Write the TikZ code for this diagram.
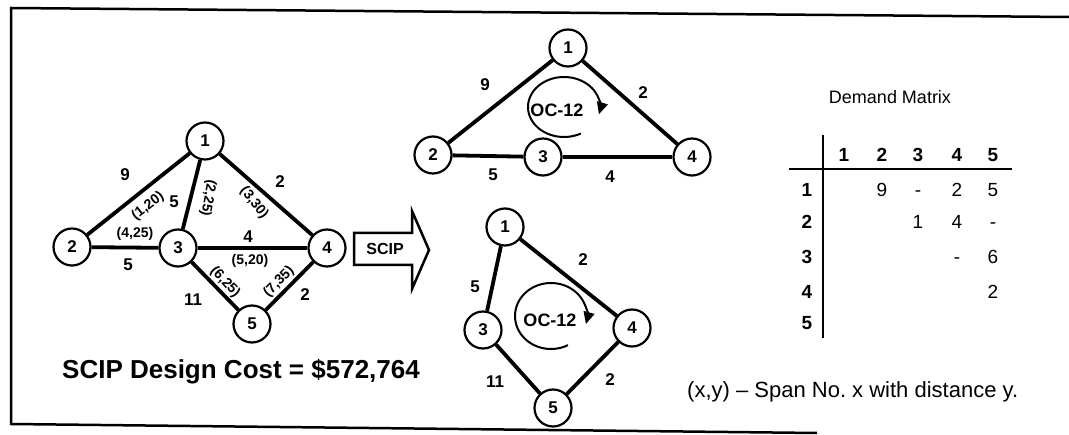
\documentclass[tikz,border=0pt]{standalone}
\usepackage{fontspec}
\setmainfont{Liberation Sans}
\usetikzlibrary{arrows.meta}

\begin{document}
\begin{tikzpicture}[x=1pt,y=-1pt,
    vtx/.style={draw,circle,line width=2.2pt,fill=white,minimum size=37pt,inner sep=0pt,
      font=\fontsize{17}{17}\selectfont\bfseries},
    link/.style={line width=3.8pt},
    wt/.style={font=\fontsize{17}{17}\selectfont\bfseries,inner sep=0pt},
    span/.style={font=\fontsize{14}{14}\selectfont\bfseries,inner sep=0pt},
    ring/.style={line width=2pt,-{Triangle[length=12pt,width=11pt]}},
    oc/.style={font=\fontsize{18}{18}\selectfont\bfseries,inner sep=0pt},
    hd/.style={font=\fontsize{19}{19}\selectfont\bfseries,inner sep=0pt},
    ent/.style={font=\fontsize{19}{19}\selectfont,inner sep=0pt,anchor=base}]
  \useasboundingbox (0,0) rectangle (1069,435);
  % frame
  \draw[line width=2.5pt] (1069,17) -- (11,8) -- (11,424) -- (817,433);

  % full network
  \node[vtx] (a1) at (205,141) {1};
  \node[vtx] (a2) at (72,247) {2};
  \node[vtx] (a3) at (178,248) {3};
  \node[vtx] (a4) at (327,248) {4};
  \node[vtx] (a5) at (252,324) {5};
  \foreach \u/\v in {a1/a2,a1/a3,a1/a4,a2/a3,a3/a4,a3/a5,a5/a4}\draw[link] (\u)--(\v);
  \node[wt] (w12) at (125,175) {9};
  \node[span,rotate=38] (s12) at (148,206) {(1,20)};
  \node[wt] (w13) at (174,202) {5};
  \node[span,rotate=-100] (s13) at (208,198) {(2,25)};
  \node[wt] (w14) at (280,182) {2};
  \node[span,rotate=-52] (s14) at (254,203) {(3,30)};
  \node[span] (s23) at (135,234) {(4,25)};
  \node[wt] (w23) at (128,265) {5};
  \node[wt] (w34) at (248,237) {4};
  \node[span] (s34) at (250,261) {(5,20)};
  \node[span,rotate=-47] (s35) at (225,282) {(6,25)};
  \node[wt] (w35) at (193,300) {11};
  \node[span,rotate=45] (s54) at (279,282) {(7,35)};
  \node[wt] (w54) at (305,295) {2};

  % SCIP block arrow
  \draw[line width=2.5pt,line join=miter] (354,233) -- (412,233) -- (412,211) -- (429,250)
    -- (412,289) -- (412,265) -- (354,265) -- cycle;
  \node[font=\fontsize{16}{16}\selectfont\bfseries] (scip) at (385,249) {SCIP};

  % upper ring
  \node[vtx] (b1) at (568,48) {1};
  \node[vtx] (b2) at (433,155) {2};
  \node[vtx] (b3) at (543,157) {3};
  \node[vtx] (b4) at (692,157) {4};
  \foreach \u/\v in {b1/b2,b1/b4,b2/b3,b3/b4}\draw[link] (\u)--(\v);
  \node[wt] (v12) at (485,85) {9};
  \node[wt] (v14) at (643,93) {2};
  \node[wt] (v23) at (493,175) {5};
  \node[wt] (v34) at (610,177) {4};
  \coordinate (o1) at (564,107);
  \draw[ring] ([shift={(62:36 and 30)}]o1) arc[start angle=62,end angle=374,x radius=36,y radius=30];
  \node[oc] (oc1) at (557,110) {OC-12};

  % lower ring
  \node[vtx] (c1) at (505,227) {1};
  \node[vtx] (c3) at (483,330) {3};
  \node[vtx] (c4) at (632,328) {4};
  \node[vtx] (c5) at (553,408) {5};
  \foreach \u/\v in {c1/c3,c1/c4,c3/c5,c5/c4}\draw[link] (\u)--(\v);
  \node[wt] (u13) at (475,287) {5};
  \node[wt] (u14) at (583,260) {2};
  \node[wt] (u35) at (495,382) {11};
  \node[wt] (u54) at (610,380) {2};
  \coordinate (o2) at (551,316);
  \draw[ring] ([shift={(62:36 and 33)}]o2) arc[start angle=62,end angle=374,x radius=36,y radius=33];
  \node[oc] (oc2) at (550,320) {OC-12};

  % demand matrix
  \node[font=\fontsize{18}{18}\selectfont] (dmt) at (890,97) {Demand Matrix};
  \draw[line width=2pt] (823,135) -- (823,338);
  \draw[line width=2.5pt] (789,169) -- (1012,169);
  \foreach \j/\x in {1/844,2/882,3/918,4/957,5/993}\node[hd] (col\j) at (\x,155) {\j};
  \foreach \i/\y in {1/190,2/222,3/257,4/292,5/323}\node[hd] (row\i) at (807,\y) {\i};
  \foreach \i/\j/\v in {1/2/9,1/3/-,1/4/2,1/5/5,2/3/1,2/4/4,2/5/-,3/4/-,3/5/6,4/5/2}
    \node[ent] at (col\j |- row\i.base) {\v};

  % notes
  \node[font=\fontsize{22}{22}\selectfont,anchor=west,inner sep=0pt] (note) at (687,392)
    {(x,y) – Span No.\ x with distance y.};
  \node[font=\fontsize{26}{26}\selectfont\bfseries,anchor=west,inner sep=0pt] (cost) at (62,372)
    {SCIP Design Cost = \$572,764};
\end{tikzpicture}
\end{document}
